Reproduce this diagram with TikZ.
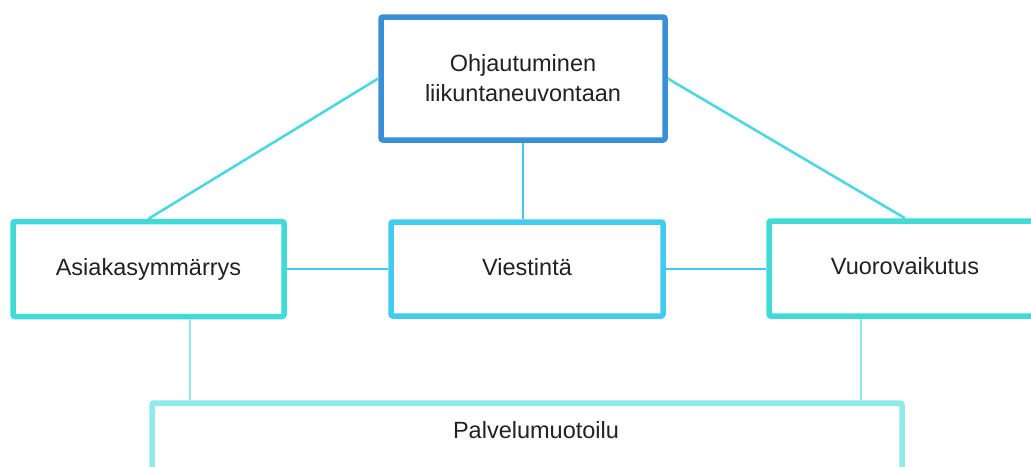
\documentclass[tikz,border=0pt]{standalone}
\usepackage{fontspec}
\setmainfont{Liberation Sans}
\definecolor{topblue}{HTML}{3A8FD9}
\definecolor{turq}{HTML}{40DAD7}
\definecolor{sky}{HTML}{40CBEF}
\definecolor{paleturq}{HTML}{8EEBE8}
\definecolor{linkturq}{HTML}{4DD8DF}
\definecolor{linksky}{HTML}{45C8EE}
\definecolor{ink}{HTML}{222222}
\begin{document}
\begin{tikzpicture}[x=1pt,y=-1pt,
  box/.style={draw, fill=white, rounded corners=2pt, line width=5.5pt, inner sep=0pt,
    text=ink, font=\fontsize{23.5}{30}\selectfont, align=center},
  onebox/.style={box, text height=17pt, text depth=5pt},
  link/.style={line width=2.6pt}]
  \useasboundingbox (0,0) rectangle (1031,466);
  \clip (0,0) rectangle (1031,466);

  % boxes
  \node[box, draw=topblue, minimum width=284pt, minimum height=123pt] (top) at (523,78.5)
    {Ohjautuminen\\liikuntaneuvontaan};
  \node[onebox, draw=turq, minimum width=271pt, minimum height=95pt] (left) at (148.5,269)
    {Asiakasymmärrys};
  \node[onebox, draw=sky, minimum width=272pt, minimum height=94pt] (mid) at (527,269)
    {Viestintä};
  \node[onebox, draw=turq, minimum width=272pt, minimum height=95pt] (right) at (905,268.5)
    {Vuorovaikutus};
  \node[box, draw=paleturq, minimum width=750pt, minimum height=240pt] (bot) at (527,523) {};
  \node[text=ink, font=\fontsize{23.5}{30}\selectfont, anchor=base] (botlabel) at (536,438)
    {Palvelumuotoilu};

  % connectors
  \draw[link, draw=linkturq] (top.west) -- (left.north);
  \draw[link, draw=linkturq] (top.east) -- (right.north);
  \draw[link, draw=linksky] (top.south) -- (top.south |- mid.north);
  \draw[link, draw=linksky] (left.east) -- (left.east -| mid.west);
  \draw[link, draw=linksky] (mid.east) -- (mid.east -| right.west);
  \coordinate (lfoot) at ([xshift=41.5pt]left.south);
  \coordinate (rfoot) at ([xshift=-44pt]right.south);
  \draw[link, draw=paleturq] (lfoot) -- (lfoot |- bot.north);
  \draw[link, draw=paleturq] (rfoot) -- (rfoot |- bot.north);
\end{tikzpicture}
\end{document}
